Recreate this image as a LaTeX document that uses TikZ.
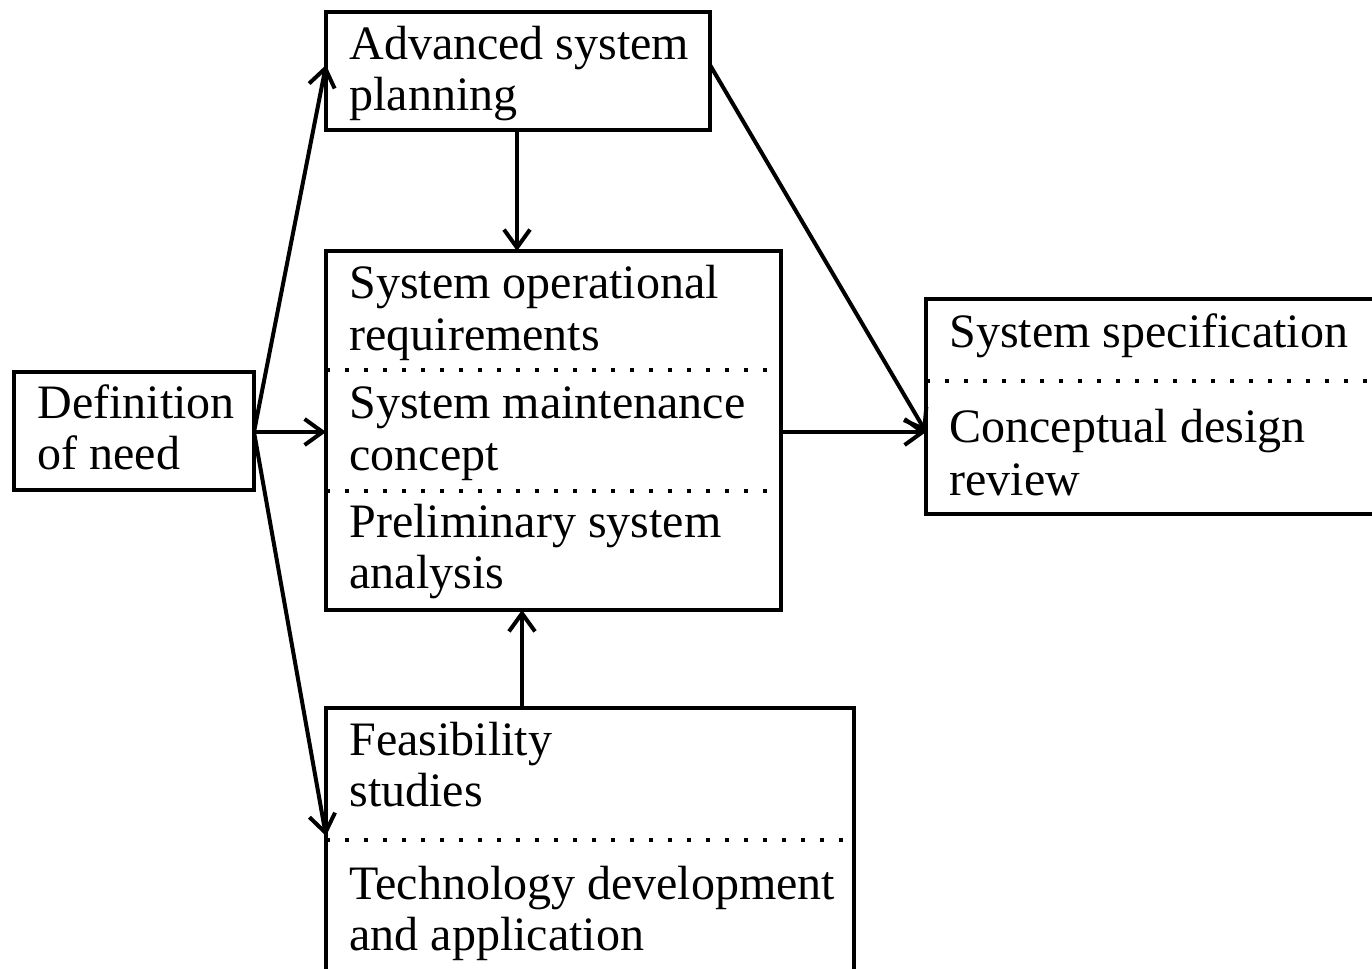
\documentclass[tikz,border=0pt]{standalone}
\usepackage{fontspec}
\setmainfont{Liberation Serif}
\usetikzlibrary{arrows.meta,fit}
\tikzset{
  box/.style={draw, line width=2pt, inner sep=0pt, outer sep=0pt},
  sep/.style={line width=2pt, dash pattern=on 2pt off 7.5pt},
  lbl/.style={anchor=base west, inner sep=0pt, font=\fontsize{24}{26}\selectfont},
  conn/.style={line width=2pt, -{Straight Barb[length=9pt,width=13pt,line width=2pt]}},
}
\begin{document}
\begin{tikzpicture}[x=0.5pt,y=-0.5pt]
\useasboundingbox (0,0) rectangle (1372,969);
\clip (0,0) rectangle (1372,969);
% boxes
\node[box, fit={(14,372) (254,490)}] (def) {};
\node[box, fit={(326,12) (710,130)}] (asp) {};
\node[box, fit={(326,251) (781,610)}] (mid) {};
\node[box, fit={(926,299) (1400,514)}] (spec) {};
\node[box, fit={(326,708) (854,1010)}] (feas) {};
% dotted separators
\draw[sep] (mid.west |- 0,370) -- (mid.east |- 0,370);
\draw[sep] (mid.west |- 0,491) -- (mid.east |- 0,491);
\draw[sep] (spec.west |- 0,381) -- (1372,381);
\draw[sep] (feas.west |- 0,840) -- (feas.east |- 0,840);
% texts
\node[lbl] (t1) at (37,418) {Definition};
\node[lbl] (t2) at (37,469) {of need};
\node[lbl] (t3) at (349,59) {Advanced system};
\node[lbl] (t4) at (349,110) {planning};
\node[lbl] (t5) at (349,298) {System operational};
\node[lbl] (t6) at (349,350) {requirements};
\node[lbl] (t7) at (349,418) {System maintenance};
\node[lbl] (t8) at (349,470) {concept};
\node[lbl] (t9) at (349,537) {Preliminary system};
\node[lbl] (t10) at (349,588) {analysis};
\node[lbl] (t11) at (949,347) {System specification};
\node[lbl] (t12) at (949,442) {Conceptual design};
\node[lbl] (t13) at (949,495) {review};
\node[lbl] (t14) at (349,755) {Feasibility};
\node[lbl] (t15) at (349,806) {studies};
\node[lbl] (t16) at (349,899) {Technology development};
\node[lbl] (t17) at (349,950) {and application};
% connector points
\coordinate (d0) at (def.east |- 0,432);
\coordinate (aspin) at (asp.west |- 0,65);
\coordinate (aspout) at (asp.east |- 0,65);
\coordinate (midin) at (mid.west |- 0,432);
\coordinate (midout) at (mid.east |- 0,432);
\coordinate (feasin) at (feas.west |- 0,836);
\coordinate (specin) at (spec.west |- 0,432);
% connectors
\draw[conn] (d0) -- (aspin);
\draw[conn] (d0) -- (midin);
\draw[conn] (d0) -- (feasin);
\draw[conn] (asp.south -| 517,0) -- (mid.north -| 517,0);
\draw[conn] (feas.north -| 522,0) -- (mid.south -| 522,0);
\draw[conn] (midout) -- (specin);
\draw[conn] (aspout) -- (specin);
\end{tikzpicture}
\end{document}
